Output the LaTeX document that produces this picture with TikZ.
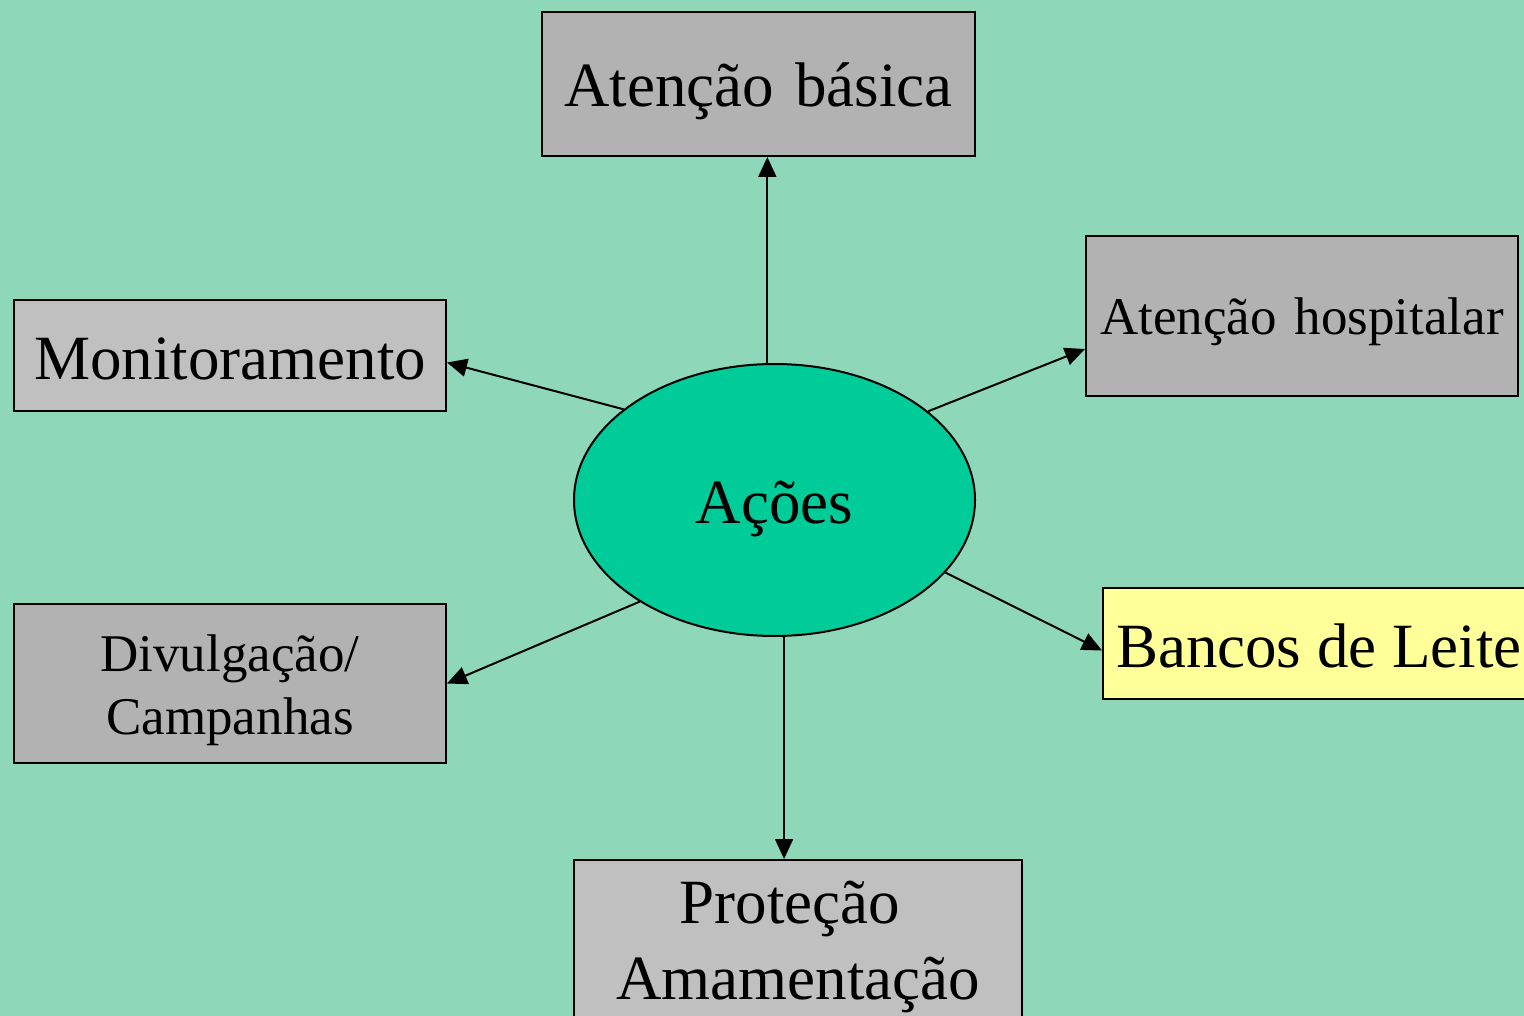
\documentclass[tikz,border=0pt]{standalone}
\usepackage{fontspec}
\setmainfont{Liberation Serif}
\usetikzlibrary{arrows.meta,shapes.geometric,calc}
\definecolor{bg}{HTML}{8FD7B9}
\definecolor{ell}{HTML}{00CC99}
\definecolor{darkgray}{HTML}{B2B2B2}
\definecolor{lightgray}{HTML}{C0C0C0}
\definecolor{paleyellow}{HTML}{FFFF99}
\tikzset{
  box/.style={draw=black, line width=2pt, rectangle, inner sep=0pt, align=center},
  big/.style={font=\fontsize{63}{76}\selectfont},
  small/.style={font=\fontsize{53}{63}\selectfont},
  conn/.style={line width=2pt, -{Triangle[length=20pt,width=18pt]}}
}
\begin{document}
\begin{tikzpicture}[x=1pt,y=-1pt]
\fill[bg] (0,0) rectangle (1524,1016);
\useasboundingbox (0,0) rectangle (1524,1016);
\clip (0,0) rectangle (1524,1016);

\node[box, big, fill=darkgray, text width=433pt, text height=95pt, text depth=49pt] (a) at (758.5,84) {Atenção básica};
\node[box, big, fill=lightgray, text width=432pt, text height=79pt, text depth=32pt] (m) at (230,355.5) {Monitoramento};
\node[box, small, fill=darkgray, text width=432pt, text height=99pt, text depth=61pt] (h) at (1302,316) {Atenção hospitalar};
\node[box, big, fill=paleyellow, anchor=west, inner xsep=13pt, text height=79pt, text depth=32pt, align=left] (b) at (1102,643.5) {Bancos de Leite};
\node[box, small, fill=darkgray, text width=432pt, text height=67pt, text depth=92pt] (d) at (230,683.5) {Divulgação/\\Campanhas};
\node[box, big, fill=lightgray, text width=448pt, text height=63pt, text depth=150pt] (p) at (798,966.5) {Proteção\rule{16pt}{0pt}\\Amamentação};
\node[ellipse, draw=black, line width=2pt, fill=ell, big, inner sep=0pt, minimum width=401pt, minimum height=272pt, text height=46pt, text depth=0pt] (e) at (774.5,500) {Ações};

\draw[conn] (e.93.6) -- (e.93.6 |- a.south);
\draw[conn] (e.149.6) -- ($(m.east)+(0,7)$);
\draw[conn] (e.30.4) -- ($(h.west)+(0,33)$);
\draw[conn] (e.-23.3) -- ($(b.west)+(0,7)$);
\draw[conn] (e.217.3) -- (d.east);
\draw[conn] (e.-86.8) -- (e.-86.8 |- p.north);
\end{tikzpicture}
\end{document}
